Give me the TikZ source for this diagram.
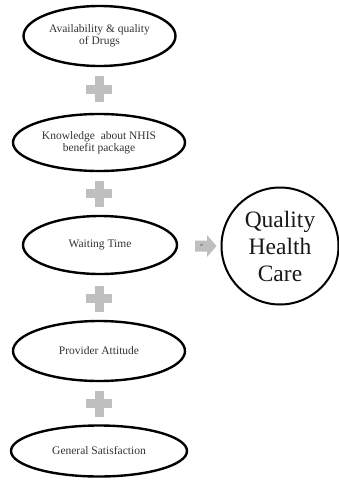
\documentclass[tikz,border=0pt]{standalone}
\usepackage{fontspec}
\setmainfont{Liberation Serif}
\usetikzlibrary{shapes.geometric}
\begin{document}
\begin{tikzpicture}[x=1pt,y=-1pt,
  factor/.style={draw=black, line width=2.4pt, ellipse, inner sep=0pt, align=center,
    text=black!80, font=\fontsize{11.5}{12}\selectfont},
  outcome/.style={draw=black, line width=2pt, circle, minimum size=117pt, inner sep=0pt,
    align=center, text=black!90, font=\fontsize{23.5}{27}\selectfont},
  plusfill/.style={fill=black!25, draw=none},
  arrowfill/.style={fill=black!25, draw=none}]
\useasboundingbox (0,0) rectangle (338,485);
\node[factor, minimum width=152pt, minimum height=60pt] (f1) at (99.5,36) {Availability \& quality\\of Drugs};
\node[factor, minimum width=172pt, minimum height=57pt] (f2) at (99,142.5) {Knowledge\ \ about NHIS\\benefit package};
\node[factor, minimum width=154pt, minimum height=58pt] (f3) at (100,245) {Waiting Time};
\node[factor, minimum width=172pt, minimum height=60pt] (f4) at (99,351) {Provider Attitude};
\node[factor, minimum width=176pt, minimum height=51pt] (f5) at (99,451) {General Satisfaction};
% plus signs between the factors
\foreach \cy in {89,193.5,298.5,403.5}{
  \fill[plusfill] (99-13,\cy-4.5) rectangle (99+13,\cy+4.5);
  \fill[plusfill] (99-4.5,\cy-13) rectangle (99+4.5,\cy+13);
}
% equals arrow
\fill[arrowfill] (195,240.5) -- (207,240.5) -- (207,235) -- (216.5,246) -- (207,257) -- (207,251.5) -- (195,251.5) -- cycle;
\node[font=\fontsize{6}{6}\selectfont, text=black!80, inner sep=0pt] (eq) at (201.5,246) {=};
% outcome
\node[outcome] (q) at (280,246) {Quality\\Health\\Care};
\end{tikzpicture}
\end{document}
